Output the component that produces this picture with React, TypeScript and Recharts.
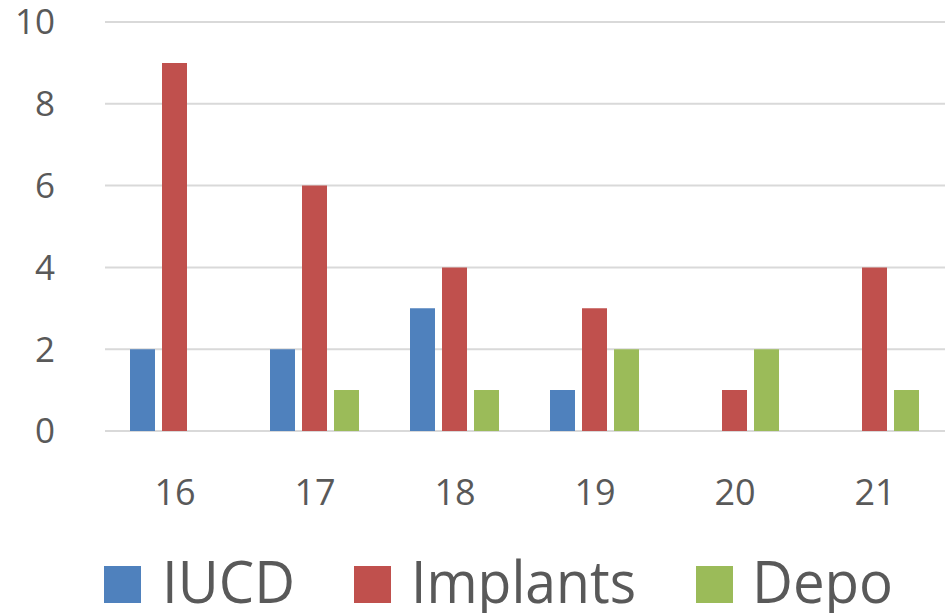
import { Bar, BarChart, CartesianGrid, XAxis, YAxis } from "recharts";

const weeks = ["16", "17", "18", "19", "20", "21"];
const iucd = [2, 2, 3, 1, 0, 0];
const implants = [9, 6, 4, 3, 1, 4];
const depo = [0, 1, 1, 2, 2, 1];
const yTicks = [0, 2, 4, 6, 8, 10];

const SERIES = [
  { key: "iucd", name: "IUCD", color: "#4f81bd", boxX: 104, textX: 162, textW: 133 },
  { key: "implants", name: "Implants", color: "#c0504d", boxX: 354, textX: 411, textW: 225 },
  { key: "depo", name: "Depo", color: "#9bbb59", boxX: 696, textX: 752, textW: 141 },
];

const data = weeks.map((w, i) => ({ week: w, iucd: iucd[i], implants: implants[i], depo: depo[i] }));

const FONT = "'Open Sans', sans-serif";
const TEXT = "#595959";

function LegendRow() {
  return (
    <svg width={946} height={60} style={{ position: "absolute", left: 0, top: 553 }}>
      {SERIES.map((s) => (
        <g key={s.key}>
          <rect x={s.boxX} y={13} width={37} height={37} fill={s.color} />
          <text
            x={s.textX}
            y={50}
            fontFamily={FONT}
            fontSize={58}
            fill={TEXT}
            textLength={s.textW}
            lengthAdjust="spacingAndGlyphs"
          >
            {s.name}
          </text>
        </g>
      ))}
    </svg>
  );
}

export default function App() {
  return (
    <div style={{ position: "absolute", left: 0, top: 0, width: 946, height: 613 }}>
      <BarChart
        width={946}
        height={613}
        data={data}
        margin={{ top: 22, right: 1, left: 0, bottom: 102 }}
        barCategoryGap={25}
        barGap={7}
      >
        <CartesianGrid vertical={false} stroke="#d9d9d9" strokeWidth={2} />
        <XAxis
          dataKey="week"
          height={80}
          axisLine={false}
          tickLine={false}
          tickSize={0}
          tickMargin={48}
          tick={{ fontSize: 36, fill: TEXT, fontFamily: FONT }}
        />
        <YAxis
          width={105}
          domain={[0, 10]}
          ticks={yTicks}
          axisLine={false}
          tickLine={false}
          tickSize={0}
          tickMargin={50}
          tick={{ fontSize: 35, fill: TEXT, fontFamily: FONT }}
        />
        {SERIES.map((s) => (
          <Bar key={s.key} dataKey={s.key} name={s.name} fill={s.color} isAnimationActive={false} />
        ))}
      </BarChart>
      <LegendRow />
    </div>
  );
}
